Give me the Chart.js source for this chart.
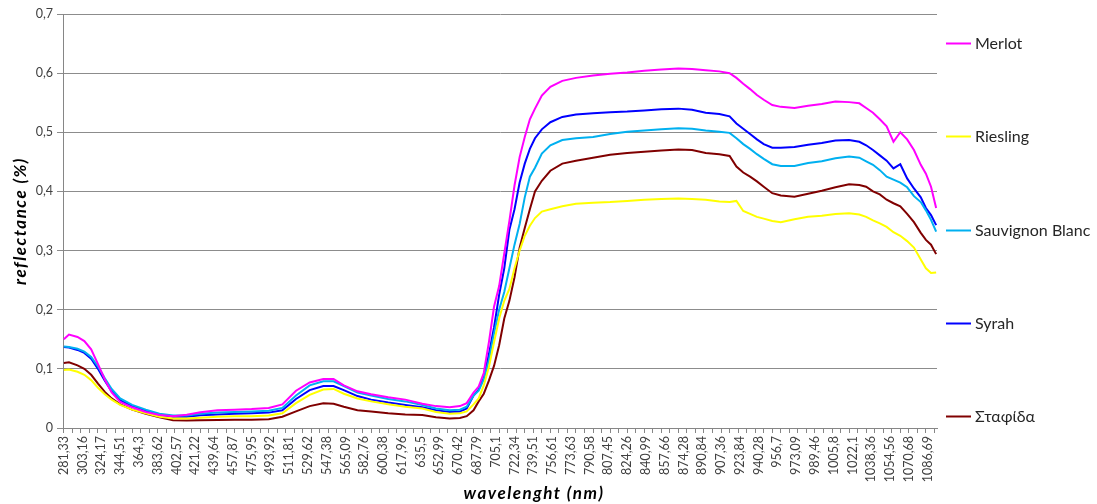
<!DOCTYPE html>
<html>
<head>
<meta charset="utf-8">
<script src="https://cdn.jsdelivr.net/npm/chart.js@4.4.1/dist/chart.umd.min.js"></script>
<style>
  html, body { margin: 0; padding: 0; background: #ffffff; }
  #wrap { width: 1097px; height: 504px; }
</style>
</head>
<body>
<div id="wrap"><canvas id="c" width="1097" height="504"></canvas></div>
<script>
// Wavelength labels shown on the category axis (one every 11 spectrometer bins)
const wavelengthTicks = [
  '281,33','303,16','324,17','344,51','364,3','383,62','402,57','421,22','439,64','457,87',
  '475,95','493,92','511,81','529,62','547,38','565,09','582,76','600,38','617,96','635,5',
  '652,99','670,42','687,79','705,1','722,34','739,51','756,61','773,63','790,58','807,45',
  '824,26','840,99','857,66','874,28','890,84','907,36','923,84','940,28','956,7','973,09',
  '989,46','1005,8','1022,1','1038,36','1054,56','1070,68','1086,69'
];
const binCount = 512;
const labelEvery = 11;
const tickMarkEvery = 5;

// Spectrometer bins at which reflectance was sampled
const sampleIndex = [
  0,3,8,12,16,20,24,28,33,40,48,56,64,72,80,90,100,110,120,128,
  136,144,152,158,164,172,180,190,200,210,218,226,232,236,240,243,246,249,252,255,
  258,261,264,267,270,273,276,280,285,292,300,310,320,330,340,350,360,368,376,384,
  390,394,398,402,406,410,415,420,428,436,444,452,460,466,470,474,478,482,486,490,
  494,498,502,505,508,511
];

const merlot = [
  0.150,0.158,0.154,0.147,0.133,0.108,0.082,0.060,0.044,0.035,0.027,0.022,0.020,0.0225,0.0265,0.030,0.031,0.032,0.034,0.040,
  0.063,0.077,0.083,0.083,0.072,0.062,0.057,0.052,0.048,0.041,0.037,0.035,0.037,0.042,0.060,0.070,0.093,0.145,0.205,0.240,
  0.295,0.350,0.410,0.458,0.492,0.522,0.540,0.562,0.577,0.587,0.592,0.596,0.599,0.601,0.604,0.606,0.608,0.607,0.605,0.603,
  0.600,0.592,0.582,0.573,0.563,0.555,0.546,0.543,0.541,0.545,0.548,0.552,0.551,0.549,0.541,0.533,0.522,0.510,0.484,0.500,
  0.488,0.470,0.445,0.430,0.408,0.372
];
const riesling = [
  0.098,0.099,0.095,0.090,0.081,0.068,0.057,0.048,0.039,0.031,0.025,0.019,0.016,0.016,0.0175,0.019,0.020,0.020,0.021,0.025,
  0.042,0.056,0.065,0.066,0.058,0.050,0.045,0.040,0.036,0.033,0.027,0.024,0.025,0.028,0.040,0.050,0.072,0.103,0.145,0.185,
  0.215,0.235,0.270,0.300,0.325,0.342,0.355,0.366,0.370,0.375,0.379,0.381,0.382,0.384,0.386,0.387,0.388,0.387,0.386,0.383,
  0.382,0.384,0.367,0.362,0.357,0.354,0.350,0.348,0.353,0.357,0.359,0.362,0.363,0.361,0.357,0.351,0.346,0.340,0.331,0.325,
  0.316,0.305,0.285,0.270,0.262,0.263
];
const sauvignonBlanc = [
  0.138,0.137,0.134,0.129,0.120,0.104,0.084,0.066,0.050,0.039,0.031,0.024,0.021,0.021,0.024,0.026,0.027,0.028,0.029,0.034,
  0.055,0.072,0.079,0.079,0.071,0.060,0.055,0.049,0.045,0.039,0.033,0.030,0.031,0.036,0.055,0.063,0.082,0.115,0.160,0.200,
  0.230,0.270,0.310,0.345,0.390,0.425,0.440,0.464,0.478,0.487,0.490,0.492,0.497,0.501,0.503,0.505,0.507,0.506,0.503,0.501,
  0.499,0.490,0.480,0.472,0.463,0.455,0.446,0.443,0.443,0.448,0.451,0.456,0.459,0.457,0.451,0.445,0.436,0.425,0.420,0.415,
  0.407,0.392,0.382,0.368,0.352,0.332
];
const syrah = [
  0.137,0.136,0.132,0.127,0.117,0.100,0.080,0.062,0.047,0.037,0.029,0.022,0.019,0.019,0.0215,0.023,0.024,0.025,0.026,0.030,
  0.049,0.064,0.071,0.071,0.064,0.054,0.048,0.043,0.039,0.035,0.030,0.027,0.028,0.033,0.055,0.065,0.085,0.125,0.170,0.225,
  0.270,0.335,0.370,0.415,0.447,0.472,0.490,0.505,0.517,0.526,0.530,0.532,0.534,0.535,0.537,0.539,0.540,0.538,0.533,0.531,
  0.527,0.515,0.506,0.497,0.488,0.480,0.474,0.474,0.475,0.479,0.482,0.486,0.487,0.484,0.478,0.470,0.461,0.452,0.439,0.446,
  0.422,0.405,0.390,0.372,0.360,0.343
];
const stafida = [
  0.110,0.111,0.106,0.100,0.090,0.075,0.061,0.050,0.040,0.031,0.024,0.018,0.013,0.0125,0.013,0.0135,0.014,0.014,0.015,0.019,
  0.028,0.037,0.042,0.041,0.036,0.030,0.028,0.025,0.023,0.022,0.018,0.016,0.017,0.020,0.030,0.045,0.058,0.080,0.105,0.140,
  0.185,0.215,0.255,0.305,0.338,0.370,0.400,0.418,0.435,0.447,0.452,0.457,0.462,0.465,0.467,0.469,0.471,0.470,0.465,0.463,
  0.460,0.442,0.432,0.425,0.417,0.408,0.397,0.393,0.391,0.396,0.401,0.407,0.412,0.411,0.408,0.400,0.395,0.386,0.380,0.375,
  0.362,0.348,0.330,0.318,0.310,0.294
];

const seriesNames = ['Merlot', 'Riesling', 'Sauvignon Blanc', 'Syrah', 'Σταφίδα'];
const seriesColors = ['#FF00FF', '#FFFF00', '#00B0F0', '#0000FF', '#800000'];
const seriesValues = [merlot, riesling, sauvignonBlanc, syrah, stafida];

const FONT = 'Lato, "Open Sans", "Noto Sans", sans-serif';

// One category per spectrometer bin; only every 11th bin carries a wavelength label
const categories = Array.from({ length: binCount }, (_, i) =>
  (i % labelEvery === 0 && wavelengthTicks[i / labelEvery] !== undefined) ? wavelengthTicks[i / labelEvery] : '');

function toBins(values) {
  const out = new Array(binCount).fill(null);
  sampleIndex.forEach((bin, j) => { out[bin] = values[j]; });
  return out;
}

// Right-hand legend and axis titles
const decorations = {
  id: 'decorations',
  afterDraw(chart) {
    const { ctx, chartArea } = chart;
    ctx.save();
    ctx.textBaseline = 'middle';
    ctx.font = '16px ' + FONT;
    const x0 = chartArea.right + 9;
    chart.data.datasets.forEach((ds, i) => {
      const y = Math.round(chartArea.top + 29 + i * 93.3) + 0.5;
      ctx.strokeStyle = ds.borderColor;
      ctx.lineWidth = 2;
      ctx.beginPath();
      ctx.moveTo(x0, y);
      ctx.lineTo(x0 + 25, y);
      ctx.stroke();
      ctx.fillStyle = '#262626';
      ctx.textAlign = 'left';
      ctx.fillText(ds.label, x0 + 29, y);
    });

    ctx.fillStyle = '#000000';
    ctx.font = 'italic bold 17px ' + FONT;
    ctx.letterSpacing = '1.5px';
    ctx.textAlign = 'center';
    ctx.fillText('wavelenght (nm)', (chartArea.left + chartArea.right) / 2 + 34, 494);

    ctx.translate(21, (chartArea.top + chartArea.bottom) / 2);
    ctx.rotate(-Math.PI / 2);
    ctx.fillText('reflectance (%)', 0, 0);
    ctx.restore();
  }
};

new Chart(document.getElementById('c'), {
  type: 'line',
  data: {
    labels: categories,
    datasets: seriesNames.map((name, i) => ({
      label: name,
      data: toBins(seriesValues[i]),
      borderColor: seriesColors[i],
      backgroundColor: seriesColors[i],
      borderWidth: 2,
      pointRadius: 0,
      pointHoverRadius: 0,
      tension: 0,
      spanGaps: true,
      fill: false
    }))
  },
  options: {
    responsive: false,
    animation: false,
    devicePixelRatio: 1,
    layout: { padding: { left: 0, right: 160, top: 14, bottom: 0 } },
    plugins: {
      legend: { display: false },
      tooltip: { enabled: false },
      title: { display: false }
    },
    scales: {
      x: {
        type: 'category',
        offset: true,
        afterFit(scale) { scale.height = 76; },
        grid: {
          offset: false,
          drawOnChartArea: false,
          drawTicks: true,
          tickLength: 5,
          color: (c) => (c.index % tickMarkEvery === 0 ? '#868686' : 'rgba(0,0,0,0)')
        },
        border: { color: '#868686', width: 1 },
        ticks: {
          autoSkip: false,
          maxRotation: 90,
          minRotation: 90,
          padding: 3,
          color: '#404040',
          font: { family: FONT, size: 12.5 }
        }
      },
      y: {
        min: 0,
        max: 0.7,
        afterFit(scale) { scale.width = 63; },
        grid: { color: '#8c8c8c', tickLength: 6, lineWidth: 1 },
        border: { color: '#868686', width: 1 },
        ticks: {
          stepSize: 0.1,
          padding: 4,
          color: '#404040',
          font: { family: FONT, size: 12.5 },
          callback: (v) => (v === 0 ? '0' : v.toFixed(1).replace('.', ','))
        }
      }
    }
  },
  plugins: [decorations]
});
</script>
</body>
</html>
